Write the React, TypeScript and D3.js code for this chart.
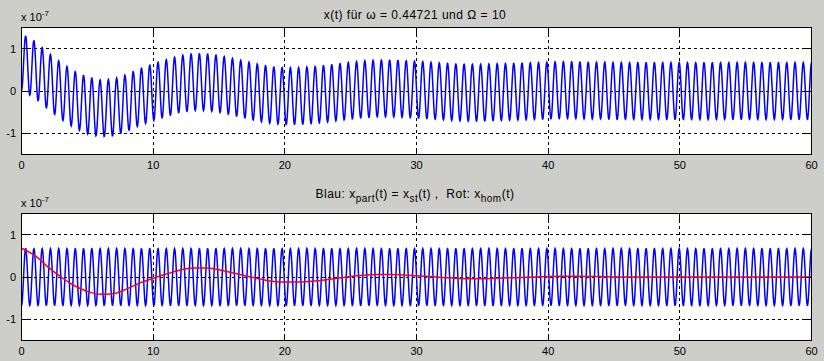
import React from 'react';
import * as d3 from 'd3';

// ---- data ----
const timeTicks = [0, 10, 20, 30, 40, 50, 60];
const valueTicks = [-1, 0, 1];
// homogeneous solution x_hom(t) (units of 1e-7), one reading per second, t = 0..60
const homTimes = [
  0, 1, 2, 3, 4, 5, 6, 7, 8, 9, 10, 11, 12, 13, 14, 15, 16, 17, 18, 19, 20,
  21, 22, 23, 24, 25, 26, 27, 28, 29, 30, 31, 32, 33, 34, 35, 36, 37, 38, 39, 40,
  41, 42, 43, 44, 45, 46, 47, 48, 49, 50, 51, 52, 53, 54, 55, 56, 57, 58, 59, 60,
];
const homValues = [
  0.68, 0.51, 0.24, 0.0, -0.2, -0.34, -0.41, -0.39, -0.28, -0.14, -0.03,
  0.07, 0.16, 0.21, 0.21, 0.17, 0.1, 0.03, -0.04, -0.1, -0.12,
  -0.12, -0.1, -0.07, -0.03, 0.01, 0.04, 0.06, 0.06, 0.05, 0.03,
  0.01, -0.01, -0.03, -0.04, -0.04, -0.03, -0.02, -0.01, 0.0, 0.01,
  0.02, 0.02, 0.01, 0.01, 0, 0, 0, 0, 0, 0,
  0, 0, 0, 0, 0, 0, 0, 0, 0, 0,
];
// steady-state (particular) solution: amplitude (1e-7) and forcing frequency Ω from the title
const stAmplitude = 0.67;
const forcingOmega = 10;
const omegaText = '0.44721';

const W = 824;
const H = 361;
const FONT = '"Liberation Sans", Arial, Helvetica, sans-serif';
const BG = '#cdcdc9';

const x = d3.scaleLinear().domain([0, 60]).range([21.5, 811.5]);
const hom = d3.scaleLinear().domain(homTimes).range(homValues);
const sampleT = d3.range(0, 60.0001, 0.025);
const xst = (t: number) => -stAmplitude * Math.cos(forcingOmega * t);

type PanelProps = {
  top: number;
  bottom: number;
  children: (y: d3.ScaleLinear<number, number>) => React.ReactNode;
  title: React.ReactNode;
  titleY: number;
};

function Panel({ top, bottom, children, title, titleY }: PanelProps) {
  const y = d3.scaleLinear().domain([-1.5, 1.5]).range([bottom, top]);
  const x0 = x.range()[0];
  const x1 = x.range()[1];
  const tl = 7;
  return (
    <g>
      <rect x={x0} y={top} width={x1 - x0} height={bottom - top} fill="#ffffff" />
      {/* grid */}
      {timeTicks.slice(1, -1).map((t) => (
        <line key={'gx' + t} x1={x(t)} x2={x(t)} y1={top} y2={bottom} stroke="#000" strokeWidth={1} strokeDasharray="3,3" shapeRendering="crispEdges" />
      ))}
      {valueTicks.map((v) => (
        <line key={'gy' + v} x1={x0} x2={x1} y1={y(v)} y2={y(v)} stroke="#000" strokeWidth={1} strokeDasharray="3,3" shapeRendering="crispEdges" />
      ))}
      {children(y)}
      {/* ticks */}
      {timeTicks.map((t) => (
        <g key={'tx' + t}>
          <line x1={x(t)} x2={x(t)} y1={bottom} y2={bottom - tl} stroke="#000" shapeRendering="crispEdges" />
          <line x1={x(t)} x2={x(t)} y1={top} y2={top + tl} stroke="#000" shapeRendering="crispEdges" />
          <text x={x(t)} y={bottom + 14} textAnchor="middle" fontSize={11} fontFamily={FONT} fill="#000">
            {t}
          </text>
        </g>
      ))}
      {valueTicks.map((v) => (
        <g key={'ty' + v}>
          <line x1={x0} x2={x0 + tl} y1={y(v)} y2={y(v)} stroke="#000" shapeRendering="crispEdges" />
          <line x1={x1} x2={x1 - tl} y1={y(v)} y2={y(v)} stroke="#000" shapeRendering="crispEdges" />
          <text x={16} y={y(v) + 4} textAnchor="end" fontSize={11} fontFamily={FONT} fill="#000">
            {v}
          </text>
        </g>
      ))}
      <rect x={x0} y={top} width={x1 - x0} height={bottom - top} fill="none" stroke="#000" strokeWidth={1} shapeRendering="crispEdges" />
      {/* exponent */}
      <text x={21} y={top - 7} fontSize={11} fontFamily={FONT} fill="#000">
        x 10
        <tspan dy={-5} fontSize={8}>-7</tspan>
      </text>
      <text x={415} y={titleY} textAnchor="middle" fontSize={12} letterSpacing={0.5} fontFamily={FONT} fill="#000" style={{ whiteSpace: 'pre' }}>
        {title}
      </text>
    </g>
  );
}

export default function App() {
  const topLine = (y: d3.ScaleLinear<number, number>) =>
    d3
      .line<number>()
      .x((t) => x(t))
      .y((t) => y(xst(t) + hom(t)))(sampleT) || '';
  const stLine = (y: d3.ScaleLinear<number, number>) =>
    d3
      .line<number>()
      .x((t) => x(t))
      .y((t) => y(xst(t)))(sampleT) || '';
  const homLine = (y: d3.ScaleLinear<number, number>) =>
    d3
      .line<number>()
      .curve(d3.curveMonotoneX)
      .x((_, i) => x(homTimes[i]))
      .y((v) => y(v))(homValues) || '';

  return (
    <svg width={W} height={H} style={{ position: 'absolute', left: 0, top: 0 }}>
      <rect x={0} y={0} width={W} height={H} fill={BG} />
      <Panel
        top={27.5}
        bottom={154.5}
        titleY={19}
        title={`x(t) für ω = ${omegaText} und Ω = ${forcingOmega}`}
      >
        {(y) => <path d={topLine(y)} fill="none" stroke="#0000ff" strokeWidth={1.5} />}
      </Panel>
      <Panel
        top={213.5}
        bottom={340.5}
        titleY={198}
        title={
          <>
            <tspan>Blau: x</tspan>
            <tspan dy={4} fontSize={10}>part</tspan>
            <tspan dy={-4}>(t) = x</tspan>
            <tspan dy={4} fontSize={10}>st</tspan>
            <tspan dy={-4}>{'(t) ,  Rot: x'}</tspan>
            <tspan dy={4} fontSize={10}>hom</tspan>
            <tspan dy={-4}>(t)</tspan>
          </>
        }
      >
        {(y) => (
          <g>
            <path d={stLine(y)} fill="none" stroke="#0000ff" strokeWidth={1.5} />
            <path d={homLine(y)} fill="none" stroke="#ff0000" strokeWidth={1.5} />
          </g>
        )}
      </Panel>
    </svg>
  );
}
